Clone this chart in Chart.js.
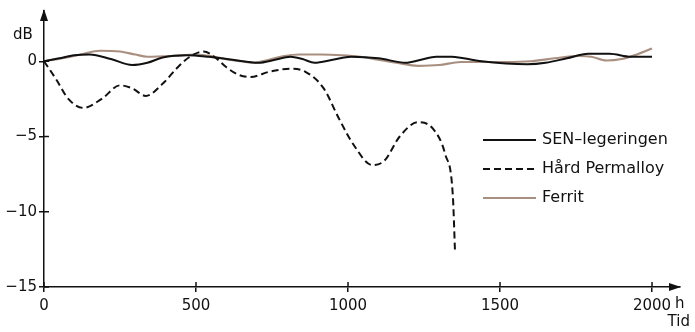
<!DOCTYPE html>
<html>
<head>
<meta charset="utf-8">
<script src="https://cdn.jsdelivr.net/npm/chart.js@4.4.1/dist/chart.umd.min.js"></script>
<style>
  html, body { margin:0; padding:0; background:#fff; }
  #wrap { width:695px; height:332px; position:relative; }
</style>
</head>
<body>
<div id="wrap"><canvas id="kurve"></canvas></div>
<script>
// akser
const xTicks = [0, 500, 1000, 1500, 2000];
const yTicks = [0, -5, -10, -15];

// SEN-legeringen
const senT  = [0, 50, 100, 150, 220, 290, 340, 390, 470, 540, 620, 705, 760, 810, 850, 890, 950, 1010, 1100, 1190, 1240, 1290, 1340, 1380, 1440, 1520, 1590, 1650, 1720, 1790, 1860, 1930, 2000];
const senDb = [0, 0.2, 0.4, 0.45, 0.15, -0.25, -0.1, 0.25, 0.4, 0.3, 0.1, -0.1, 0.1, 0.3, 0.15, -0.1, 0.1, 0.3, 0.2, -0.1, 0.1, 0.3, 0.3, 0.2, 0, -0.15, -0.2, -0.1, 0.2, 0.5, 0.5, 0.3, 0.3];

// Hård Permalloy
const hardT  = [0, 40, 80, 130, 190, 250, 290, 335, 390, 440, 480, 525, 560, 600, 640, 680, 740, 810, 860, 920, 970, 1020, 1080, 1120, 1170, 1230, 1280, 1320, 1345, 1352];
const hardDb = [0, -1.2, -2.5, -3.1, -2.5, -1.6, -1.8, -2.3, -1.5, -0.4, 0.3, 0.65, 0.3, -0.4, -0.9, -1.05, -0.7, -0.5, -0.7, -1.8, -3.8, -5.6, -6.9, -6.6, -5.0, -4.05, -4.5, -6.2, -9.0, -12.7];

// Ferrit
const ferT  = [0, 60, 120, 185, 250, 300, 340, 420, 500, 560, 610, 650, 690, 740, 790, 840, 910, 980, 1040, 1100, 1160, 1230, 1300, 1370, 1440, 1520, 1600, 1680, 1760, 1800, 1850, 1900, 1950, 2000];
const ferDb = [0, 0.2, 0.45, 0.7, 0.65, 0.45, 0.3, 0.35, 0.45, 0.3, 0.1, 0, -0.1, 0.1, 0.35, 0.45, 0.45, 0.4, 0.3, 0.1, -0.1, -0.3, -0.25, -0.05, -0.05, -0.05, 0, 0.2, 0.35, 0.3, 0.05, 0.15, 0.45, 0.85];

function pts(t, v) { return t.map((x, i) => ({ x: x, y: v[i] })); }

const fnt = '"DejaVu Sans", "Liberation Sans", sans-serif';

// pile, ekstra streker og tegnforklaring
const pynt = {
  id: 'pynt',
  afterDraw(chart) {
    const c = chart.ctx, a = chart.chartArea;
    const xs = chart.scales.x, ys = chart.scales.y;
    const x0 = xs.getPixelForValue(0), y0 = ys.getPixelForValue(-15);
    c.save();
    c.strokeStyle = '#111'; c.fillStyle = '#111'; c.lineWidth = 1.5;
    // tick inn i diagrammet
    yTicks.forEach(v => {
      const y = ys.getPixelForValue(v);
      c.beginPath(); c.moveTo(x0, y); c.lineTo(x0 + 5, y); c.stroke();
    });
    xTicks.forEach(v => {
      const x = xs.getPixelForValue(v);
      c.beginPath(); c.moveTo(x, y0); c.lineTo(x, y0 - 5); c.stroke();
    });
    // pilspisser
    c.beginPath(); c.moveTo(x0, a.top - 2); c.lineTo(x0 - 4, a.top + 10); c.lineTo(x0 + 4, a.top + 10); c.closePath(); c.fill();
    c.beginPath(); c.moveTo(a.right + 1, y0); c.lineTo(a.right - 11, y0 - 4); c.lineTo(a.right - 11, y0 + 4); c.closePath(); c.fill();
    // tekster
    c.font = '15px ' + fnt;
    c.textBaseline = 'middle';
    c.textAlign = 'left';
    c.fillText('dB', 13, 35);
    c.fillText('h', 675, 304);
    c.textAlign = 'right';
    c.fillText('Tid', 690, 322);
    // tegnforklaring
    c.font = '16px ' + fnt;
    c.textAlign = 'left';
    chart.data.datasets.forEach((ds, i) => {
      const y = 140 + i * 29;
      c.strokeStyle = ds.borderColor; c.lineWidth = ds.borderWidth;
      c.setLineDash(ds.borderDash || []);
      c.beginPath(); c.moveTo(483, y); c.lineTo(536, y); c.stroke();
      c.setLineDash([]);
      c.fillStyle = '#111';
      c.fillText(ds.label, 542, y);
    });
    c.restore();
  }
};

new Chart(document.getElementById('kurve'), {
  type: 'line',
  data: {
    datasets: [
      { label: 'SEN–legeringen', data: pts(senT, senDb), borderColor: '#111', borderWidth: 2 },
      { label: 'Hård Permalloy', data: pts(hardT, hardDb), borderColor: '#111', borderWidth: 2, borderDash: [7, 4] },
      { label: 'Ferrit', data: pts(ferT, ferDb), borderColor: '#a88f80', borderWidth: 2.2 }
    ]
  },
  options: {
    responsive: true,
    maintainAspectRatio: false,
    animation: false,
    layout: { padding: { left: 0, top: 7, right: 15, bottom: 0 } },
    elements: {
      point: { radius: 0 },
      line: { cubicInterpolationMode: 'monotone', fill: false }
    },
    plugins: { legend: { display: false }, tooltip: { enabled: false } },
    scales: {
      x: {
        type: 'linear', min: 0, max: 2092,
        afterBuildTicks: s => { s.ticks = xTicks.map(v => ({ value: v })); },
        afterFit: s => { s.height = 45; },
        grid: { display: true, drawOnChartArea: false, drawTicks: true, tickLength: 5, color: '#111', lineWidth: 1.5 },
        border: { display: true, color: '#111', width: 1.5 },
        ticks: { color: '#111', font: { size: 15, family: fnt }, padding: 5, maxRotation: 0,
                 callback: v => String(v) }
      },
      y: {
        type: 'linear', min: -15, max: 3.34,
        afterBuildTicks: s => { s.ticks = yTicks.map(v => ({ value: v })); },
        afterFit: s => { s.width = 44; },
        grid: { display: true, drawOnChartArea: false, drawTicks: true, tickLength: 5, color: '#111', lineWidth: 1.5 },
        border: { display: true, color: '#111', width: 1.5 },
        ticks: { color: '#111', font: { size: 15, family: fnt }, padding: 2,
                 callback: v => v < 0 ? '−' + Math.abs(v) : String(v) }
      }
    }
  },
  plugins: [pynt]
});
</script>
</body>
</html>
